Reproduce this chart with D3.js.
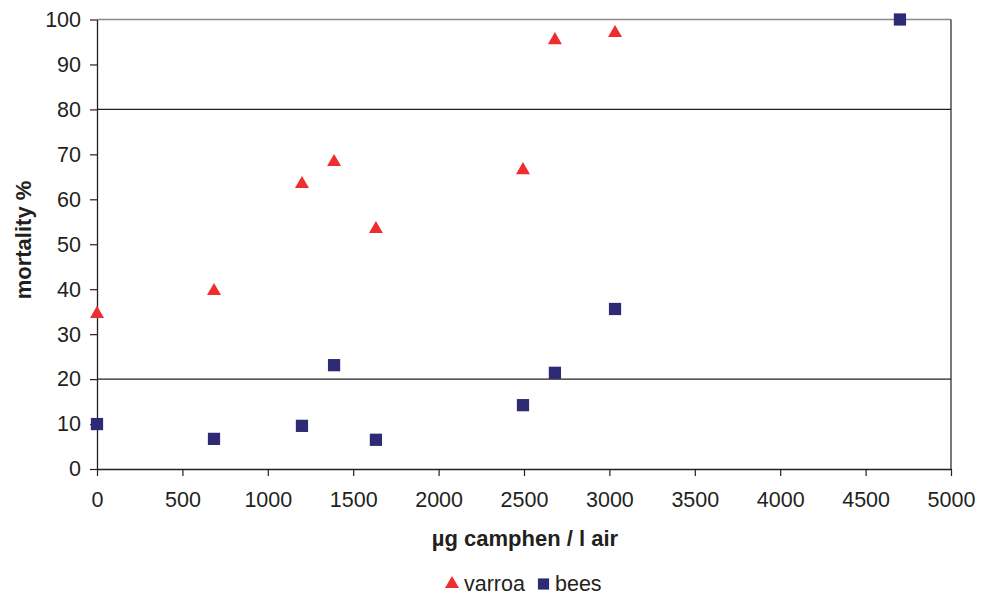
<!DOCTYPE html>
<html><head><meta charset="utf-8">
<script src="https://cdn.jsdelivr.net/npm/d3@7"></script>
<style>body{margin:0;background:#fff}svg{display:block}text{font-family:"Liberation Sans",Arial,sans-serif;fill:#231f20}</style>
</head><body><svg id="c" width="993" height="596"></svg>
<script>
const concentration = [0, 685, 1200, 1388, 1633, 2494, 2681, 3033];
const varroa = [34.5, 39.6, 63.4, 68.3, 53.4, 66.5, 95.4, 97.0];
const beesX = [0, 685, 1200, 1388, 1633, 2494, 2681, 3033, 4701];
const bees = [10.0, 6.7, 9.6, 23.1, 6.5, 14.2, 21.4, 35.6, 100];
const xTicks = [0,500,1000,1500,2000,2500,3000,3500,4000,4500,5000];
const yTicks = [0,10,20,30,40,50,60,70,80,90,100];
const gridLines = [20, 80];

const svg = d3.select("#c");
const L=97, R=951, T=19.5, B=469;
const x = d3.scaleLinear().domain([0,5000]).range([L,R]);
const y = d3.scaleLinear().domain([0,100]).range([B,T]);

// grid
svg.selectAll(".g").data(gridLines).join("line")
  .attr("x1",L).attr("x2",R).attr("y1",d=>y(d)).attr("y2",d=>y(d))
  .attr("stroke","#231f20").attr("stroke-width",1.2);
svg.append("line").attr("x1",L).attr("x2",R).attr("y1",T).attr("y2",T).attr("stroke","#8a8a8a").attr("stroke-width",1.3);
svg.append("line").attr("x1",R).attr("x2",R).attr("y1",T).attr("y2",B).attr("stroke","#231f20").attr("stroke-width",1.2);

const xa = svg.append("g").attr("transform",`translate(0,${B})`)
  .call(d3.axisBottom(x).tickValues(xTicks).tickFormat(d3.format("d")).tickSize(7).tickPadding(16).tickSizeOuter(0));
const ya = svg.append("g").attr("transform",`translate(${L},0)`)
  .call(d3.axisLeft(y).tickValues(yTicks).tickFormat(d3.format("d")).tickSize(7).tickPadding(9).tickSizeOuter(0));
[xa,ya].forEach(a=>{
  a.attr("font-size",null).attr("font-family",null);
  a.select(".domain").attr("stroke","#231f20").attr("stroke-width",1.3);
  a.selectAll(".tick line").attr("stroke","#231f20").attr("stroke-width",1.2);
  a.selectAll("text").style("font-size","21.5px").attr("fill","#231f20");
});

svg.append("text").attr("x",525).attr("y",546).attr("text-anchor","middle")
  .style("font-size","22px").style("font-weight","bold").text("µg camphen / l air");
svg.append("text").attr("transform","translate(31,240) rotate(-90)").attr("text-anchor","middle")
  .style("font-size","22px").style("font-weight","bold").text("mortality %");

const red="#ee2d2e", navy="#2e2a76";
const tri = d3.symbol().type(d3.symbolTriangle).size(85);
const sq = d3.symbol().type(d3.symbolSquare).size(150);

svg.append("g").selectAll("path").data(beesX).join("path")
  .attr("d",sq).attr("fill",navy)
  .attr("transform",(d,i)=>`translate(${x(d)},${y(bees[i])})`);
svg.append("g").selectAll("path").data(concentration).join("path")
  .attr("d",tri).attr("fill",red)
  .attr("transform",(d,i)=>`translate(${x(d)},${y(varroa[i])})`);

// legend
const lg = svg.append("g");
lg.append("path").attr("d",tri).attr("fill",red).attr("transform","translate(452,584)");
lg.append("text").attr("x",464).attr("y",591).style("font-size","21.5px").text("varroa");
lg.append("path").attr("d",d3.symbol().type(d3.symbolSquare).size(125)).attr("fill",navy).attr("transform","translate(543.5,584)");
lg.append("text").attr("x",555).attr("y",591).style("font-size","21.5px").text("bees");
</script></body></html>
